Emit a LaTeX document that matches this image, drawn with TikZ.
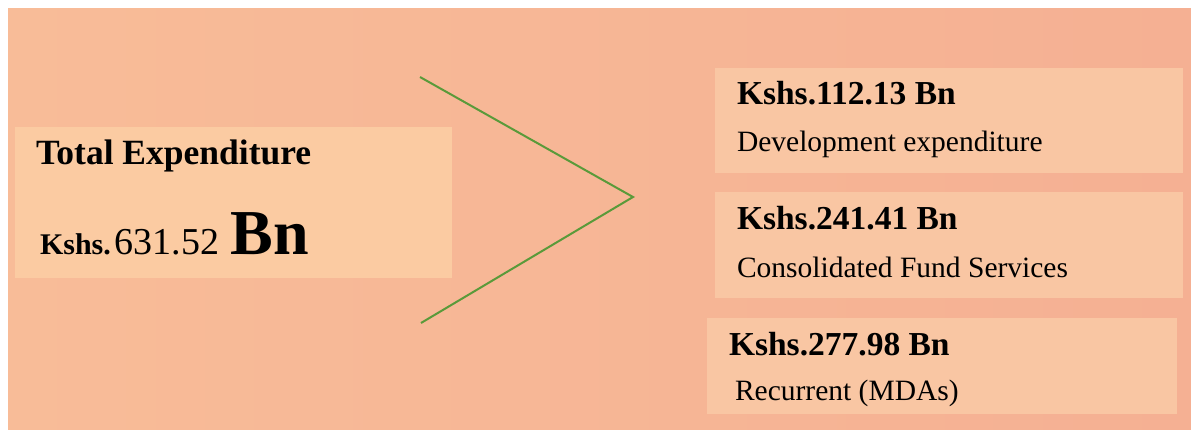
\documentclass[tikz,border=0pt]{standalone}
\usepackage{fontspec}
\setmainfont{Liberation Serif}
\definecolor{peachbg}{HTML}{F8BC98}
\definecolor{peachbgr}{HTML}{F5B093}
\definecolor{boxleft}{HTML}{FBCBA2}
\definecolor{boxright}{HTML}{F9C6A3}
\definecolor{chevron}{HTML}{5A9A3A}

\begin{document}
\begin{tikzpicture}[x=1pt, y=-1pt,
every node/.style={inner sep=0pt, outer sep=0pt},
panel/.style={rectangle, anchor=north west},
amount/.style={anchor=base west, font=\fontsize{33.5}{34}\selectfont\bfseries},
label/.style={anchor=base west, font=\fontsize{29.5}{30}\selectfont},
arm/.style={chevron, line width=2pt}]
\useasboundingbox (0,0) rectangle (1191,430);
\shade[left color=peachbg, right color=peachbgr] (8,9) rectangle (1191,430);
\node[panel, fill=boxleft, minimum width=437pt, minimum height=151pt] (total) at (15,127) {};
\node[panel, fill=boxright, minimum width=468pt, minimum height=105pt] (dev) at (715,68) {};
\node[panel, fill=boxright, minimum width=468pt, minimum height=106pt] (cfs) at (715,192) {};
\node[panel, fill=boxright, minimum width=470pt, minimum height=96pt] (rec) at (707,318) {};
\node[anchor=base west, font=\fontsize{35.5}{36}\selectfont\bfseries] (totaltitle) at (36,165) {Total Expenditure};
\node[anchor=base west] (totalamount) at (40,255)
	{{\fontsize{30}{30}\selectfont\bfseries Kshs.}\hspace{4pt}{\fontsize{38}{38}\selectfont 631.52}\hspace{11pt}{\fontsize{64}{64}\selectfont\bfseries Bn}};
\node[amount] (devamount) at (737,105) {Kshs.112.13 Bn};
\node[label] (devlabel) at (737,152) {Development expenditure};
\node[amount] (cfsamount) at (737,230) {Kshs.241.41 Bn};
\node[label] (cfslabel) at (737,278) {Consolidated Fund Services};
\node[amount] (recamount) at (729,355) {Kshs.277.98 Bn};
\node[label] (reclabel) at (735,400) {Recurrent (MDAs)};
\coordinate (armtop) at (420,77);
\coordinate (armtip) at (633,197);
\coordinate (armbot) at (421,323);
\draw[arm] (armtop) -- (armtip) -- (armbot);
\end{tikzpicture}
\end{document}
